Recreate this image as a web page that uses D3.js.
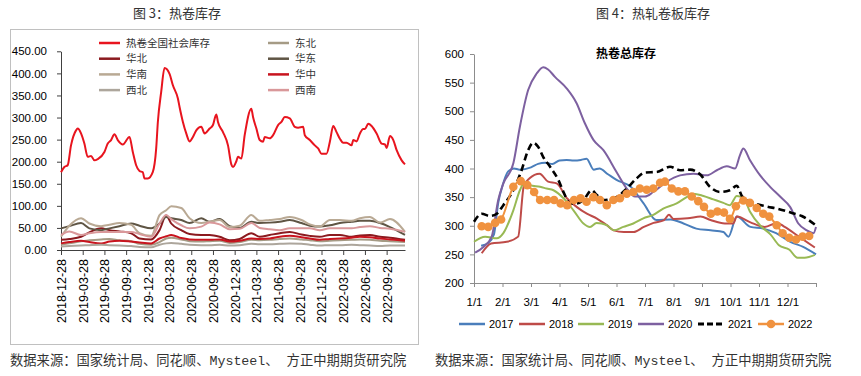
<!DOCTYPE html>
<html>
<head>
<meta charset="utf-8">
<script src="https://cdn.jsdelivr.net/npm/d3@7"></script>
<style>
  body { margin: 0; background: #fff; }
  svg { display: block; }
</style>
</head>
<body>
<div id="chart"></div>
<script>
// ---------- left chart data (weekly, week 0 = 2018-12-28) ----------
var leftTicks = ["2018-12-28", "2019-03-28", "2019-06-28", "2019-09-28", "2019-12-28",
  "2020-03-28", "2020-06-28", "2020-09-28", "2020-12-28", "2021-03-28", "2021-06-28",
  "2021-09-28", "2021-12-28", "2022-03-28", "2022-06-28", "2022-09-28"];

var mainWeeks = [0,2,4,6,9,10,12,14,16,18,20,22,26,28,30,32,34,37,41,43,45,47,49,50,52,55,57,58,60,62,
  65,67,70,71,73,75,77,79,81,84,86,89,91,93,94,97,100,102,103,105,106,108,110,114,115,117,119,121,122,125,
  127,130,132,134,137,140,142,145,146,149,152,154,156,159,161,163,165,167,169,171,174,175,177,179,181,182,
  184,186,189,192,194,195,197,199,201,204,206];
var mainVals = [176,188,192,237,271,275,264,241,211,213,203,206,222,241,249,262,249,239,256,222,192,179,176,162,162,177,230,290,358,412,
  399,373,343,324,290,264,246,256,271,279,264,275,283,307,290,267,237,194,188,201,211,207,260,320,301,275,249,245,256,253,
  260,283,290,301,298,279,277,279,260,249,237,230,218,218,245,281,267,252,243,243,237,249,246,264,274,274,
  286,281,264,241,239,231,258,249,226,203,194];

var regWeeks = [0,5,12,17,24,29,35,42,47,54,59,63,66,72,77,84,89,95,101,107,114,119,125,131,137,144,149,155,161,167,174,179,185,191,197,206];
var dongbei  = [12,15,20,22,24,25,22,20,14,12,18,26,28,24,20,19,20,21,16,18,23,22,23,25,26,24,22,20,21,22,23,24,23,21,20,18];
var huabei   = [23,25,30,40,49,45,42,38,26,24,45,78,60,45,36,34,34,30,22,25,38,30,34,38,41,35,32,30,34,34,30,33,34,30,28,23];
var huadong  = [49,54,61,49,45,49,54,60,55,49,60,75,72,68,61,72,64,70,54,50,64,61,62,64,68,61,55,53,56,61,64,66,66,61,52,34];
var huanan   = [30,55,72,60,54,57,61,57,38,32,79,90,99,95,72,61,64,68,52,55,79,66,68,70,75,68,58,53,68,68,66,72,75,62,70,41];
var huazhong = [15,18,21,18,15,19,21,19,17,15,26,31,34,27,24,23,23,24,19,21,26,25,26,30,32,29,26,23,25,26,28,30,29,26,24,21];
var xibei    = [8,9,10,11,12,11,10,9,7,6,12,15,16,14,12,11,11,12,10,11,14,13,13,14,15,14,12,10,11,11,12,11,10,9,10,10];
var xinan    = [34,42,34,38,41,41,41,41,36,30,60,79,70,56,49,53,62,58,47,48,61,50,47,45,49,49,49,45,49,49,49,52,54,50,48,41];

// ---------- right chart data (x = months since 1/1) ----------
var monthTicks = ["1/1","2/1","3/1","4/1","5/1","6/1","7/1","8/1","9/1","10/1","11/1","12/1"];

var m2017 = [0.25,0.5,0.7,0.85,1.0,1.2,1.4,1.6,2.0,2.25,2.5,2.75,3.0,3.25,3.5,3.75,3.95,4.2,4.4,4.7,5.0,5.5,5.95,6.4,6.9,7.35,7.8,8.3,8.75,8.93,9.22,9.7,10.15,10.6,11.1,11.55,12.0];
var v2017 = [265,270,285,340,370,395,400,398,402,408,410,408,414,415,414,415,417,398,400,390,380,368,339,310,311,304,295,292,289,281,316,298,295,287,272,263,250];
var m2018 = [0.27,0.6,1.15,1.55,1.75,1.95,2.3,2.6,2.9,3.26,3.6,3.96,4.3,4.66,4.9,5.26,5.6,5.96,6.3,6.67,6.84,7.0,7.5,7.95,8.3,8.8,9.1,9.22,9.7,10.2,10.64,10.9,11.4,11.96];
var v2018 = [252,269,272,281,370,383,391,377,374,348,333,321,313,301,292,289,289,298,305,310,319,312,313,316,310,304,304,316,306,298,305,298,281,262];
var m2019 = [0,0.39,0.8,1.03,1.38,1.61,1.79,1.96,2.32,2.55,2.79,3.14,3.49,3.84,4.07,4.3,4.66,4.9,5.24,5.59,5.94,6.29,6.64,7.11,7.46,7.7,8.05,8.4,8.75,8.98,9.22,9.45,9.68,10.05,10.4,10.7,11.07,11.35,11.6,11.96];
var v2019 = [272,281,278,287,327,362,377,371,368,365,362,348,327,304,298,305,301,292,298,304,313,319,330,339,350,356,352,346,340,336,352,349,325,300,285,266,258,244,244,249];
var m2020 = [0.04,0.33,0.62,0.85,1.03,1.38,1.61,1.9,2.2,2.43,2.6,2.84,3.25,3.6,3.89,4.19,4.54,5.0,5.36,5.65,6.0,6.29,6.76,7.23,7.7,8.17,8.52,8.87,9.16,9.33,9.45,9.68,10.04,10.39,10.74,11.09,11.38,11.68,11.91,12.0];
var v2020 = [253,263,281,345,374,409,473,537,566,577,573,560,540,514,479,450,432,394,365,351,351,359,377,388,391,388,397,404,400,423,435,415,388,368,351,333,304,292,287,298];
var m2021 = [0,0.27,0.56,0.8,1.03,1.38,1.67,1.9,2.08,2.25,2.43,2.67,2.96,3.14,3.37,3.6,3.84,4.13,4.3,4.54,5.0,5.36,5.71,6.0,6.41,6.88,7.23,7.58,7.93,8.28,8.63,8.98,9.22,9.4,9.8,10.24,10.71,11.18,11.5,11.96];
var v2021 = [307,321,317,321,336,362,397,432,445,438,420,403,380,359,339,339,345,362,354,345,350,365,383,393,394,403,397,398,390,368,359,362,370,352,340,334,329,322,317,302];
var m2022 = [0.27,0.5,0.74,0.95,1.38,1.64,1.87,2.11,2.32,2.57,2.81,3.04,3.27,3.51,3.74,3.95,4.19,4.42,4.66,4.89,
  5.12,5.36,5.59,5.82,6.06,6.29,6.53,6.7,6.94,7.17,7.4,7.64,7.87,8.07,8.31,8.54,8.77,8.98,9.19,9.45,
  9.68,9.92,10.15,10.36,10.62,10.83,11.06,11.3,11.53,11.76];
var v2022 = [299,298,305,311,368,378,371,359,345,345,345,339,336,345,348,342,350,345,336,345,
  348,356,359,365,363,365,375,377,365,360,360,351,343,333,321,325,323,312,334,344,
  340,331,321,316,301,287,279,276,281,282];

// ---------- page ----------
var cjk = "'Noto Sans CJK SC', sans-serif";
var svg = d3.select("#chart").append("svg")
    .attr("width", 861)
    .attr("height", 376)
    .style("font-family", "'Liberation Sans', Arial, sans-serif");

// titles
svg.append("text").attr("x", 177).attr("y", 18).attr("text-anchor", "middle")
    .style("font-family", cjk).style("font-size", "13px").attr("fill", "#333")
    .text("图 3：热卷库存");
svg.append("text").attr("x", 653).attr("y", 18).attr("text-anchor", "middle")
    .style("font-family", cjk).style("font-size", "13px").attr("fill", "#333")
    .text("图 4：热轧卷板库存");

// sources
[10, 435].forEach(function(x) {
  svg.append("text").attr("x", x).attr("y", 365)
      .style("font-family", "'Liberation Mono', 'Noto Sans CJK SC', monospace")
      .style("font-size", "13.3px").attr("fill", "#333")
      .text("数据来源：国家统计局、同花顺、Mysteel、 方正中期期货研究院");
});

// ================= left chart =================
var left = svg.append("g");
left.append("rect")
    .attr("x", 10.5).attr("y", 29.5).attr("width", 408).attr("height", 315)
    .attr("fill", "none").attr("stroke", "#c0c0c0");

var x1 = d3.scaleLinear().domain([0, 206]).range([61, 405]);
var y1 = d3.scaleLinear().domain([0, 450]).range([250, 51.3]);

var yAx1 = left.append("g")
    .attr("transform", "translate(61,0)")
    .call(d3.axisLeft(y1).tickValues(d3.range(0, 451, 50)).tickFormat(d3.format(".2f")).tickSize(4).tickPadding(10).tickSizeOuter(0));
yAx1.selectAll("text").style("font-size", "11.5px").attr("fill", "#000");

var xAx1 = left.append("g")
    .attr("transform", "translate(0,250)")
    .call(d3.axisBottom(x1).tickValues(leftTicks.map(function(d, i) { return i * 13; }))
      .tickFormat(function(d, i) { return leftTicks[i]; }).tickSize(5).tickSizeOuter(0));
xAx1.selectAll("text")
    .attr("transform", "rotate(-90)")
    .attr("text-anchor", "end")
    .attr("x", -9).attr("y", 0).attr("dy", "0.35em")
    .style("font-size", "12.5px").attr("fill", "#000");
left.selectAll(".domain, .tick line").attr("stroke", "#404040");

var line1 = d3.line().curve(d3.curveMonotoneX);

var regions = [
  {name: "东北", vals: dongbei,  color: "#A59B85"},
  {name: "华北", vals: huabei,   color: "#8B1A1F"},
  {name: "华东", vals: huadong,  color: "#5F5544"},
  {name: "华南", vals: huanan,   color: "#B9A994"},
  {name: "华中", vals: huazhong, color: "#C8141E"},
  {name: "西北", vals: xibei,    color: "#ADA69C"},
  {name: "西南", vals: xinan,    color: "#D9989A"}
];

left.append("path")
    .attr("d", line1(mainWeeks.map(function(w, i) { return [x1(w), y1(mainVals[i])]; })))
    .attr("fill", "none").attr("stroke", "#E8141E").attr("stroke-width", 2);

regions.forEach(function(r) {
  left.append("path")
      .attr("d", line1(regWeeks.map(function(w, i) { return [x1(w), y1(r.vals[i])]; })))
      .attr("fill", "none").attr("stroke", r.color).attr("stroke-width", 2);
});

// legend
var leg1 = [{name: "热卷全国社会库存", color: "#E8141E"}].concat(regions);
leg1.forEach(function(d, i) {
  var col = i % 2, row = Math.floor(i / 2);
  var lx = col == 0 ? 99 : 268, ly = 43 + row * 15.7;
  left.append("line").attr("x1", lx).attr("x2", lx + 21).attr("y1", ly).attr("y2", ly)
      .attr("stroke", d.color).attr("stroke-width", 2.5);
  left.append("text").attr("x", lx + 27).attr("y", ly).attr("dy", "0.36em")
      .style("font-family", cjk).style("font-size", "10.5px").attr("fill", "#333")
      .text(d.name);
});

// ================= right chart =================
var right = svg.append("g");
var x2 = d3.scaleLinear().domain([0, 12]).range([474, 816]);
var y2 = d3.scaleLinear().domain([200, 600]).range([283, 54]);

var yAx2 = right.append("g")
    .attr("transform", "translate(474,0)")
    .call(d3.axisLeft(y2).tickValues(d3.range(200, 601, 50)).tickSize(4).tickPadding(6).tickSizeOuter(0));
yAx2.selectAll("text").style("font-size", "11.5px").attr("fill", "#000");

var xAx2 = right.append("g")
    .attr("transform", "translate(0,283)")
    .call(d3.axisBottom(x2).tickValues(d3.range(0, 13))
      .tickFormat(function(d) { return monthTicks[d] || ""; }).tickSize(4).tickPadding(11).tickSizeOuter(0));
xAx2.selectAll("text").style("font-size", "11.5px").attr("fill", "#000");
right.selectAll(".domain, .tick line").attr("stroke", "#8c8c8c");

right.append("text").attr("x", 626).attr("y", 58)
    .attr("text-anchor", "middle")
    .style("font-family", cjk).style("font-size", "12px").style("font-weight", "bold")
    .text("热卷总库存");

var years = [
  {name: "2017", m: m2017, v: v2017, color: "#4A7EBB"},
  {name: "2018", m: m2018, v: v2018, color: "#BE4B48"},
  {name: "2019", m: m2019, v: v2019, color: "#98B954"},
  {name: "2020", m: m2020, v: v2020, color: "#7D60A0"},
  {name: "2021", m: m2021, v: v2021, color: "#000000", dash: "7,4"},
  {name: "2022", m: m2022, v: v2022, color: "#F0923F", dots: true}
];

var line2 = d3.line().curve(d3.curveMonotoneX);
years.forEach(function(s) {
  var pts = s.m.map(function(m, i) { return [x2(m), y2(s.v[i])]; });
  right.append("path")
      .attr("d", line2(pts))
      .attr("fill", "none").attr("stroke", s.color)
      .attr("stroke-width", s.dash ? 2.6 : 2)
      .attr("stroke-dasharray", s.dash || null);
  if (s.dots) {
    right.selectAll(null).data(pts).enter().append("circle")
        .attr("cx", function(d) { return d[0]; })
        .attr("cy", function(d) { return d[1]; })
        .attr("r", 4.3)
        .attr("fill", s.color);
  }
});

// legend
var legX = [459, 519, 578, 638, 698, 758];
years.forEach(function(s, i) {
  var lx = legX[i], ly = 324;
  right.append("line").attr("x1", lx).attr("x2", lx + 26).attr("y1", ly).attr("y2", ly)
      .attr("stroke", s.color).attr("stroke-width", s.dash ? 3 : 2.5)
      .attr("stroke-dasharray", s.dash ? "6,3" : null);
  if (s.dots) {
    right.append("circle").attr("cx", lx + 13).attr("cy", ly).attr("r", 4.3).attr("fill", s.color);
  }
  right.append("text").attr("x", lx + 30).attr("y", ly).attr("dy", "0.35em")
      .style("font-size", "11px").attr("fill", "#000")
      .text(s.name);
});
</script>
</body>
</html>
